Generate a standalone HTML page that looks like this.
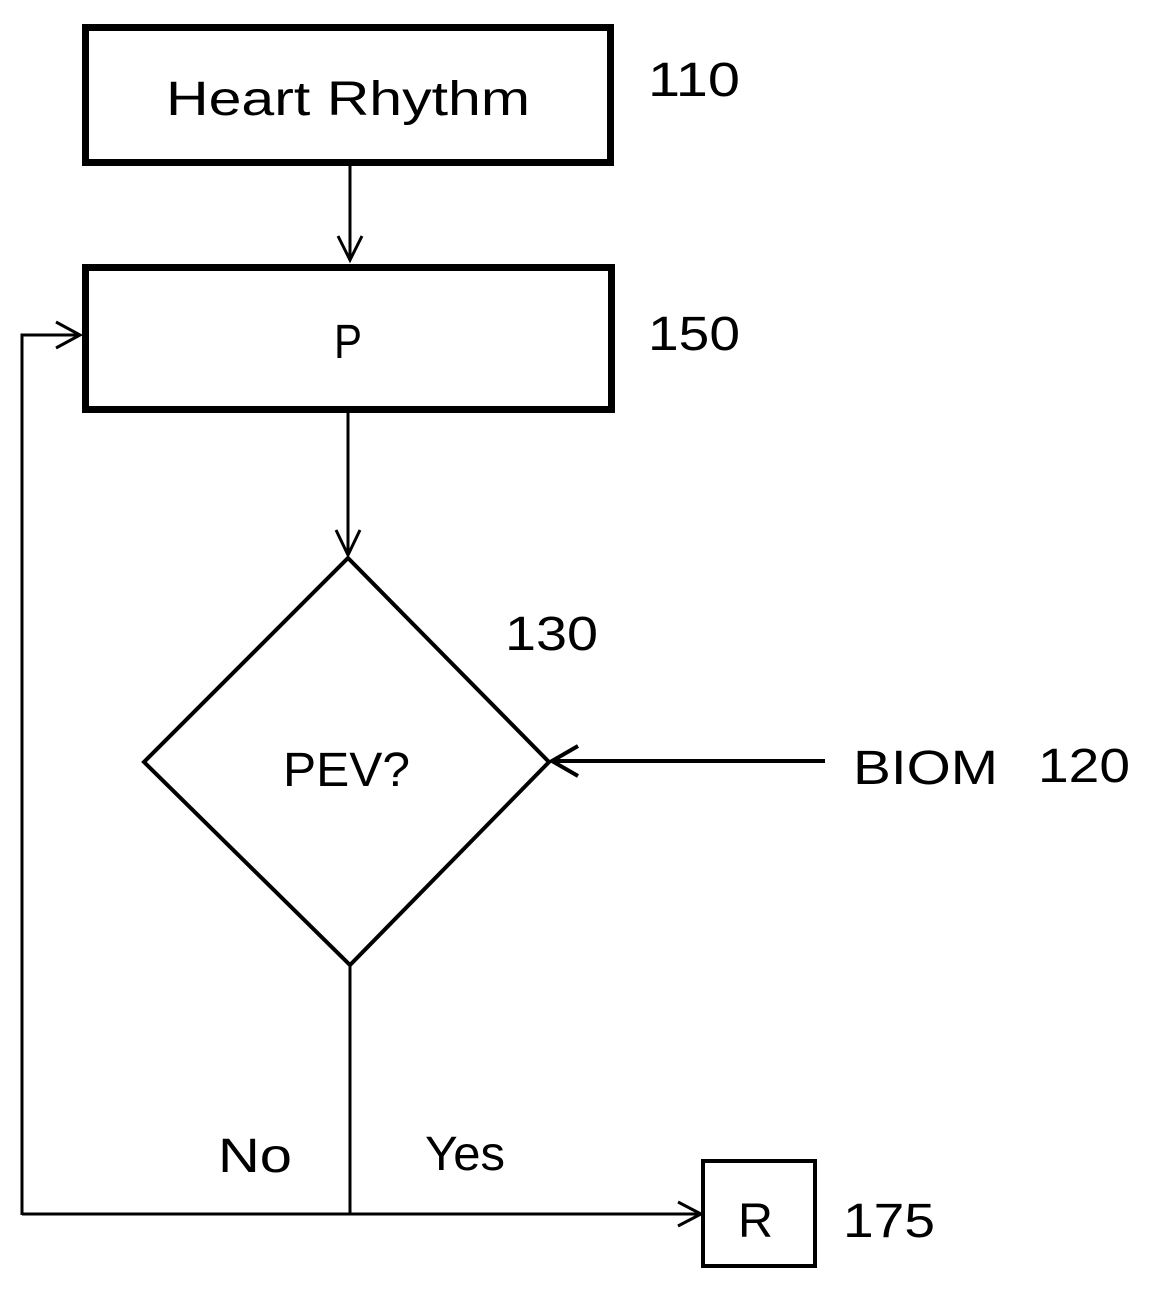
<!DOCTYPE html>
<html><head><style>
html,body{margin:0;padding:0;background:#fff;}
svg{display:block;}
text{font-family:"Liberation Sans",sans-serif;fill:#000;}
</style></head><body>
<svg width="1153" height="1290" viewBox="0 0 1153 1290" xmlns="http://www.w3.org/2000/svg">
<g fill="none" stroke="#000">
<rect x="85.5" y="27.5" width="525" height="135" stroke-width="7"/>
<rect x="85.5" y="267.5" width="526" height="142" stroke-width="7"/>
<rect x="703" y="1161" width="112" height="105" stroke-width="4"/>
<polygon points="348,558 549,762 350,965 144,762" stroke-width="4"/>
<g stroke-width="3">
<line x1="350" y1="166" x2="350" y2="260"/>
<polyline points="338,236 350,260 362,236"/>
<line x1="348" y1="413" x2="348" y2="555"/>
<polyline points="336,530 348,555 360,530"/>
<polyline points="22,1215 22,335 80,335"/>
<polyline points="56,322 80,335 56,348"/>
<line x1="350" y1="965" x2="350" y2="1214"/>
<line x1="22" y1="1214" x2="700" y2="1214"/>
<polyline points="678,1202 701,1214 678,1226"/>
</g>
<line x1="825" y1="761" x2="552" y2="761" stroke-width="4"/>
<polyline points="578,746 552,761 578,776" stroke-width="4"/>
</g>
<g font-size="48" lengthAdjust="spacingAndGlyphs">
<text x="166" y="115" textLength="364" lengthAdjust="spacingAndGlyphs">Heart Rhythm</text>
<text x="648" y="96" textLength="92" lengthAdjust="spacingAndGlyphs">110</text>
<text x="334" y="358" textLength="28" lengthAdjust="spacingAndGlyphs">P</text>
<text x="648" y="350" textLength="92" lengthAdjust="spacingAndGlyphs">150</text>
<text x="283" y="786" textLength="127" lengthAdjust="spacingAndGlyphs">PEV?</text>
<text x="505" y="650" textLength="93" lengthAdjust="spacingAndGlyphs">130</text>
<text x="853" y="784" textLength="145" lengthAdjust="spacingAndGlyphs">BIOM</text>
<text x="1038" y="782" textLength="92" lengthAdjust="spacingAndGlyphs">120</text>
<text x="218" y="1172" textLength="74" lengthAdjust="spacingAndGlyphs">No</text>
<text x="425" y="1170" textLength="80" lengthAdjust="spacingAndGlyphs">Yes</text>
<text x="738" y="1237" textLength="35" lengthAdjust="spacingAndGlyphs">R</text>
<text x="843" y="1237" textLength="92" lengthAdjust="spacingAndGlyphs">175</text>
</g>
</svg>
</body></html>
